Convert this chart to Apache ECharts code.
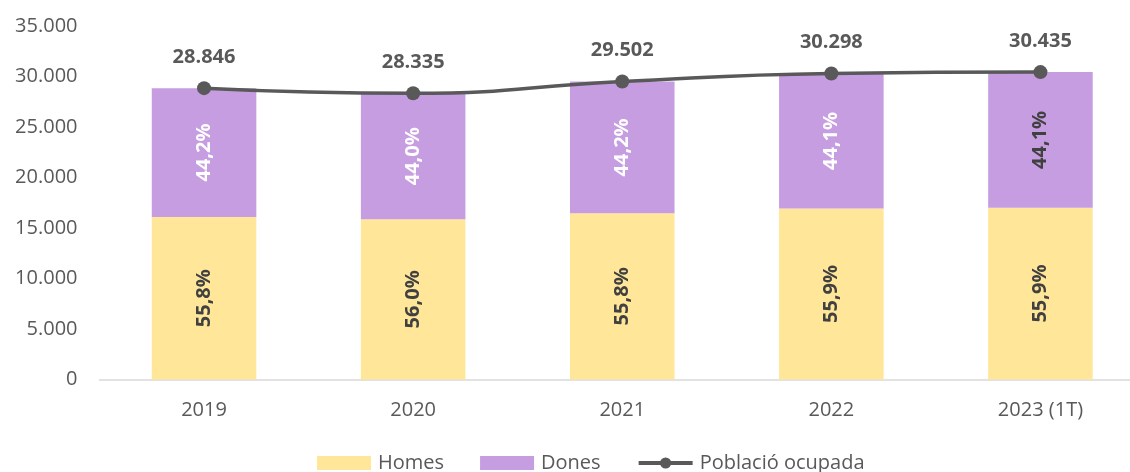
<!DOCTYPE html>
<html>
<head>
<meta charset="utf-8">
<script src="https://cdn.jsdelivr.net/npm/echarts@6/dist/echarts.min.js"></script>
<style>
  html, body { margin: 0; padding: 0; background: #fff; overflow: hidden; }
  #chart { width: 1145px; height: 472px; }
</style>
</head>
<body>
<div id="chart"></div>
<script>
var categories = ['2019', '2020', '2021', '2022', '2023 (1T)'];
var total = [28846, 28335, 29502, 30298, 30435];
var homes = [16096, 15868, 16462, 16937, 17013];
var dones = [12750, 12467, 13040, 13361, 13422];
var homesPct = ['55,8%', '56,0%', '55,8%', '55,9%', '55,9%'];
var donesPct = ['44,2%', '44,0%', '44,2%', '44,1%', '44,1%'];
var donesLabelColor = ['#fff', '#fff', '#fff', '#fff', '#404040'];

var font = '"Open Sans", sans-serif';
// 28846 -> 28.846
var fmt = function (v) {
    return String(v).replace(/\B(?=(\d{3})+(?!\d))/g, '.');
};

var chart = echarts.init(document.getElementById('chart'));
chart.setOption({
    animation: false,
    textStyle: {fontFamily: font},
    grid: {left: 99.5, right: 0, top: 26, bottom: 92.5, containLabel: false},
    legend: {
        top: 453,
        left: 317,
        padding: 0,
        itemGap: 36,
        itemWidth: 54,
        itemHeight: 14,
        textStyle: {fontFamily: font, fontSize: 20, color: '#595959', padding: [0, 0, 0, 2]},
        data: [
            {name: 'Homes', icon: 'rect'},
            {name: 'Dones', icon: 'rect'},
            {name: 'Població ocupada', lineStyle: {width: 4}}
        ]
    },
    xAxis: {
        type: 'category',
        data: categories,
        axisLine: {lineStyle: {color: '#d9d9d9', width: 1.5}},
        axisTick: {show: false},
        axisLabel: {color: '#595959', fontSize: 20, fontFamily: font, margin: 21}
    },
    yAxis: {
        type: 'value',
        min: 0,
        max: 35000,
        interval: 5000,
        splitLine: {show: false},
        axisLine: {show: false},
        axisTick: {show: false},
        axisLabel: {color: '#595959', fontSize: 20, fontFamily: font, margin: 22, formatter: fmt}
    },
    series: [
        {
            name: 'Homes',
            type: 'bar',
            stack: 'pob',
            barWidth: '50%',
            itemStyle: {color: '#FFE699'},
            data: homes,
            label: {
                show: true,
                position: 'inside',
                rotate: 90,
                fontSize: 20,
                fontWeight: 'bold',
                fontFamily: font,
                color: '#404040',
                formatter: function (p) { return homesPct[p.dataIndex]; }
            }
        },
        {
            name: 'Dones',
            type: 'bar',
            stack: 'pob',
            itemStyle: {color: '#C59DE0'},
            data: dones.map(function (v, i) {
                return {value: v, label: {color: donesLabelColor[i]}};
            }),
            label: {
                show: true,
                position: 'inside',
                rotate: 90,
                fontSize: 20,
                fontWeight: 'bold',
                fontFamily: font,
                formatter: function (p) { return donesPct[p.dataIndex]; }
            }
        },
        {
            name: 'Població ocupada',
            type: 'line',
            smooth: true,
            symbol: 'circle',
            symbolSize: 14,
            lineStyle: {color: '#595959', width: 3.5},
            itemStyle: {color: '#595959'},
            data: total,
            label: {
                show: true,
                position: 'top',
                distance: 14,
                fontSize: 20,
                fontWeight: 'bold',
                fontFamily: font,
                color: '#595959',
                formatter: function (p) { return fmt(p.value); }
            }
        }
    ]
});
</script>
</body>
</html>
